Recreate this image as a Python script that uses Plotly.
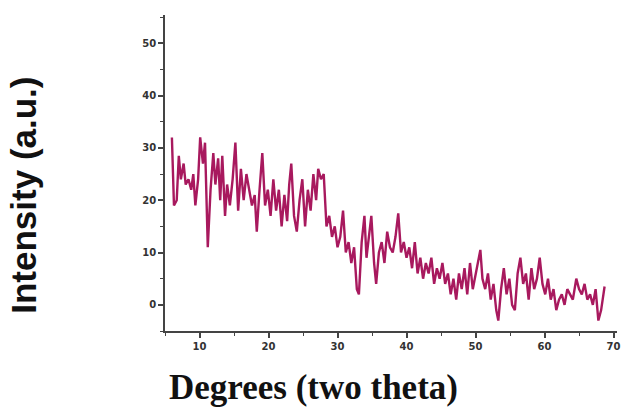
import plotly.graph_objects as go

two_theta = [6.0, 6.3, 6.7, 7.0, 7.3, 7.7, 8.0, 8.4, 8.8, 9.1, 9.4, 9.8, 10.1, 10.5, 10.8, 11.2, 11.6, 12.0, 12.3, 12.7,
             13.0, 13.3, 13.7, 14.0, 14.4, 14.8, 15.2, 15.6, 16.0, 16.4, 16.8, 17.2, 17.6, 18.0, 18.3, 18.7, 19.1, 19.5, 19.9, 20.3,
             20.7, 21.1, 21.5, 21.9, 22.3, 22.7, 23.0, 23.3, 23.7, 24.1, 24.5, 24.9, 25.3, 25.7, 26.1, 26.5, 26.9, 27.2, 27.6, 28.0,
             28.4, 28.8, 29.2, 29.6, 30.0, 30.4, 30.8, 31.2, 31.6, 32.0, 32.4, 32.8, 33.1, 33.5, 33.9, 34.2, 34.5, 34.9, 35.3, 35.6,
             36.0, 36.4, 36.8, 37.2, 37.6, 38.0, 38.4, 38.8, 39.2, 39.6, 40.0, 40.4, 40.8, 41.2, 41.6, 42.0, 42.4, 42.8, 43.2, 43.6,
             44.0, 44.4, 44.8, 45.2, 45.6, 46.0, 46.4, 46.8, 47.2, 47.6, 48.0, 48.4, 48.8, 49.2, 49.6, 50.0, 50.4, 50.7, 51.0, 51.4,
             51.8, 52.2, 52.6, 53.0, 53.3, 53.7, 54.1, 54.5, 54.9, 55.3, 55.7, 56.1, 56.5, 56.9, 57.3, 57.7, 58.1, 58.5, 58.9, 59.3,
             59.7, 60.1, 60.5, 60.9, 61.3, 61.7, 62.1, 62.5, 62.9, 63.3, 63.7, 64.1, 64.6, 65.0, 65.4, 65.8, 66.2, 66.6, 67.0, 67.4,
             67.8, 68.2, 68.7]
intensity = [32, 19, 20, 28.5, 24, 27, 23, 24, 22, 25, 19, 24, 32, 27, 31, 11, 22, 29, 23, 28,
             20, 28.5, 17, 23, 19, 24, 31, 18, 26, 20, 25, 22, 19, 21, 14, 22, 29, 19, 22, 17,
             24, 18, 22, 15, 21, 16, 23, 27, 17, 14, 20, 24, 15, 22, 18, 25, 20, 26, 24, 25,
             15, 17, 13, 15, 11, 13, 18, 10, 12, 8, 11, 3, 2, 12, 17, 9, 12, 17, 8, 4,
             10, 12, 8, 14, 11, 10, 13, 17.5, 10, 12, 9, 11, 7, 12, 6, 9, 5, 8, 6, 9,
             4, 7, 5, 8, 4, 6, 2, 5, 1, 6, 3, 7, 2, 8, 3, 6, 9, 10.5, 5, 3,
             6, 1, 4, -1, -3, 3, 7, 2, 5, 0, -1, 6, 9, 4, 6, 1, 7, 3, 5, 9,
             4, 2, 5, 1, 3, -1, 1, 2, 0, 3, 2, 1, 5, 3, 2, 4, 1, 2, 0, 3,
             -3, -1, 3.5]

x_ticks = [10, 20, 30, 40, 50, 60, 70]
y_ticks = [0, 10, 20, 30, 40, 50]

fig = go.Figure()
fig.add_trace(go.Scatter(x=two_theta, y=intensity, mode="lines",
                         line=dict(color="#a8195e", width=2.4), showlegend=False))

axis_common = dict(showline=True, linecolor="#444", linewidth=1.5, showgrid=False, zeroline=False,
                   ticks="outside", ticklen=5, tickwidth=1.5, tickcolor="#444",
                   tickfont=dict(family="DejaVu Sans", size=10, color="#333", weight="bold"),
                   minor=dict(ticks="outside", ticklen=3, tickwidth=1.2, tickcolor="#444", dtick=5))
fig.update_xaxes(range=[5, 70.5], tickvals=x_ticks, **axis_common)
fig.update_yaxes(range=[-5, 55.4], tickvals=y_ticks, **axis_common)

fig.update_layout(
    width=628, height=408,
    margin=dict(l=165, r=7, t=15, b=77),
    paper_bgcolor="white", plot_bgcolor="white",
    annotations=[
        dict(text="<b>Intensity (a.u.)</b>", xref="paper", yref="paper", x=-0.315, y=0.43,
             textangle=-90, showarrow=False, font=dict(family="Arial", size=35, color="#111"),
             xanchor="center", yanchor="middle"),
        dict(text="<b>Degrees (two theta)</b>", xref="paper", yref="paper", x=0.329, y=-0.18,
             showarrow=False, font=dict(family="Liberation Serif", size=35, color="#111"),
             xanchor="center", yanchor="middle"),
    ],
)

fig.write_html("out.html")
